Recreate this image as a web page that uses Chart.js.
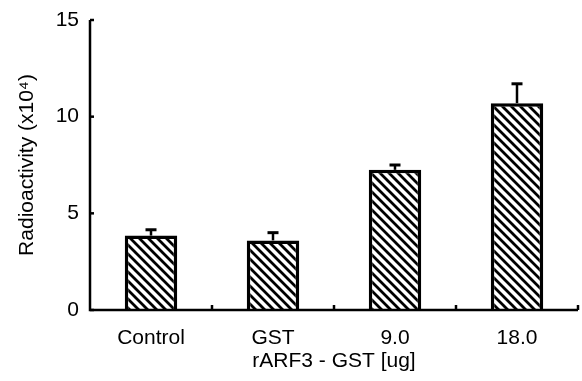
<!DOCTYPE html>
<html>
<head>
<meta charset="utf-8">
<script src="https://cdn.jsdelivr.net/npm/chart.js@4.4.1/dist/chart.umd.min.js"></script>
<style>
  html, body { margin: 0; padding: 0; background: #fff; }
  #wrap { width: 582px; height: 381px; }
</style>
</head>
<body>
<div id="wrap"><canvas id="grafico" width="582" height="381"></canvas></div>
<script>
const categorias = ["Control", "GST", "9.0", "18.0"];
const valores = [3.85, 3.6, 7.25, 10.7];
const errores = [0.3, 0.4, 0.25, 1.0];
const ticksY = [0, 5, 10, 15];

// patron de rayas diagonales
function crearRayado() {
  const n = 9;
  const c = document.createElement("canvas");
  c.width = n;
  c.height = n;
  const g = c.getContext("2d");
  g.fillStyle = "#fff";
  g.fillRect(0, 0, n, n);
  g.strokeStyle = "#000";
  g.lineWidth = 2.8;
  g.beginPath();
  g.moveTo(-2, -2); g.lineTo(n + 2, n + 2);
  g.moveTo(-2, n - 2); g.lineTo(2, n + 2);
  g.moveTo(n - 2, -2); g.lineTo(n + 2, 2);
  g.stroke();
  return g.createPattern(c, "repeat");
}

const fuente = "'Liberation Sans', Arial, sans-serif";

const barrasError = {
  id: "barrasError",
  afterDatasetsDraw(chart) {
    const ctx = chart.ctx;
    const meta = chart.getDatasetMeta(0);
    const y = chart.scales.y;
    ctx.save();
    ctx.strokeStyle = "#000";
    meta.data.forEach((bar, i) => {
      const yTop = y.getPixelForValue(valores[i]);
      const yErr = y.getPixelForValue(valores[i] + errores[i]);
      ctx.lineWidth = 2.5;
      ctx.beginPath();
      ctx.moveTo(bar.x, yTop);
      ctx.lineTo(bar.x, yErr);
      ctx.stroke();
      ctx.lineWidth = 3;
      ctx.beginPath();
      ctx.moveTo(bar.x - 5.5, yErr);
      ctx.lineTo(bar.x + 5.5, yErr);
      ctx.stroke();
    });
    ctx.restore();
  }
};

// ejes y marcas hacia adentro
const ejes = {
  id: "ejes",
  afterDraw(chart) {
    const ctx = chart.ctx;
    const a = chart.chartArea;
    const x = chart.scales.x;
    const y = chart.scales.y;
    ctx.save();
    ctx.strokeStyle = "#000";
    ctx.lineWidth = 2.5;
    ctx.beginPath();
    ctx.moveTo(a.left, a.top);
    ctx.lineTo(a.left, a.bottom);
    ctx.lineTo(a.right, a.bottom);
    ctx.stroke();
    ticksY.forEach(v => {
      const py = y.getPixelForValue(v);
      ctx.beginPath();
      ctx.moveTo(a.left, py);
      ctx.lineTo(a.left + 4, py);
      ctx.stroke();
    });
    for (let i = 0; i < categorias.length; i++) {
      const px = x.getPixelForValue(i) + (x.getPixelForValue(1) - x.getPixelForValue(0)) / 2;
      ctx.beginPath();
      ctx.moveTo(px, a.bottom);
      ctx.lineTo(px, a.bottom - 5);
      ctx.stroke();
    }
    ctx.restore();
  }
};

const ctx = document.getElementById("grafico").getContext("2d");

new Chart(ctx, {
  type: "bar",
  data: {
    labels: categorias,
    datasets: [{
      data: valores,
      backgroundColor: crearRayado(),
      borderColor: "#000",
      borderWidth: 3.5,
      borderSkipped: "start",
      categoryPercentage: 1,
      barPercentage: 0.43
    }]
  },
  options: {
    responsive: false,
    animation: false,
    layout: { padding: { top: 20, right: 4, left: 0, bottom: 0 } },
    plugins: {
      legend: { display: false },
      tooltip: { enabled: false }
    },
    scales: {
      x: {
        grid: { display: false },
        border: { display: false },
        ticks: {
          color: "#000",
          font: { family: fuente, size: 21 },
          padding: 8
        },
        title: {
          display: true,
          text: "rARF3 - GST [ug]",
          color: "#000",
          font: { family: fuente, size: 21 },
          padding: { top: 0, bottom: 7 }
        },
        afterFit(s) { s.height = 71; }
      },
      y: {
        min: 0,
        max: 15,
        afterBuildTicks(s) { s.ticks = ticksY.map(v => ({ value: v })); },
        grid: { display: false },
        border: { display: false },
        ticks: {
          color: "#000",
          font: { family: fuente, size: 21 },
          padding: 3
        },
        title: {
          display: true,
          text: "Radioactivity (x10⁴)",
          color: "#000",
          font: { family: fuente, size: 21 },
          padding: { top: 15, bottom: 0 }
        },
        afterFit(s) { s.width = 90; }
      }
    }
  },
  plugins: [barrasError, ejes]
});
</script>
</body>
</html>
